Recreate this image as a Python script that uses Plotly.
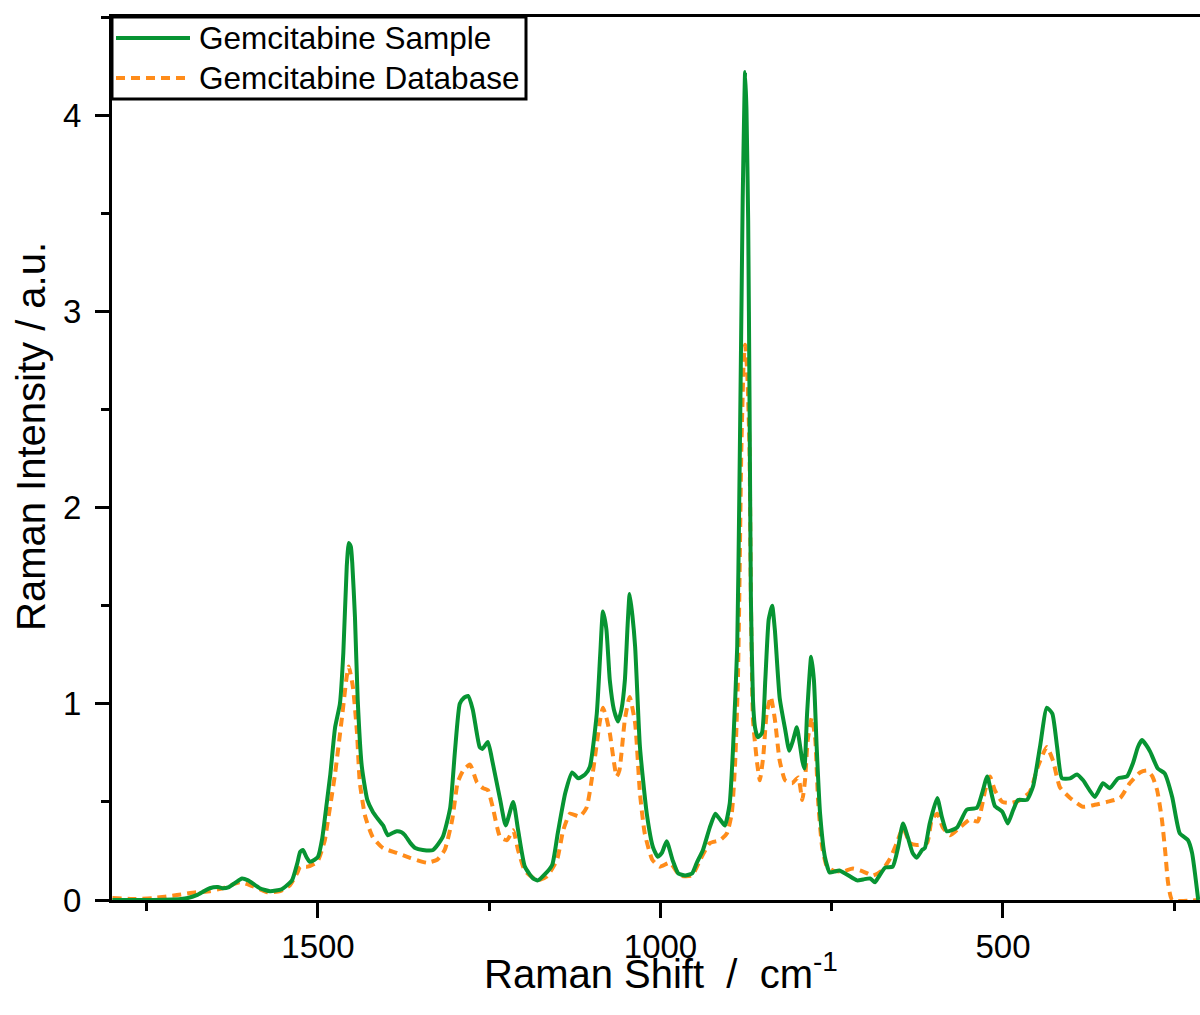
import plotly.graph_objects as go

# ---- data ----
sample_shift = [1800, 1750, 1700, 1690, 1677, 1658, 1646, 1639, 1630, 1620, 1611, 1602, 1585, 1570, 1553,
                1538, 1530, 1526, 1522, 1517, 1512, 1505, 1500, 1494, 1487, 1482, 1475, 1468, 1463, 1458,
                1455, 1452, 1450, 1446, 1442, 1436, 1428, 1420, 1414, 1405, 1398, 1392, 1385, 1378, 1373,
                1365, 1358, 1347, 1332, 1318, 1307, 1300, 1293, 1287, 1281, 1274, 1264, 1260, 1252, 1245,
                1234, 1226, 1215, 1208, 1198, 1186, 1179, 1169, 1158, 1150, 1139, 1129, 1120, 1110, 1103,
                1093, 1088, 1084, 1079, 1074, 1068, 1062, 1057, 1052, 1048, 1045, 1041, 1037, 1030, 1020,
                1011, 1004, 998, 991, 982, 974, 964, 954, 947, 938, 928, 920, 913, 906, 899,
                894, 888, 885, 882.5, 880, 877.5, 876.5, 874.5, 872, 870, 868, 865, 862, 858, 852,
                847, 842, 837, 833, 826, 818, 812, 806, 801, 796, 793, 790, 786, 780, 776,
                772, 767, 760, 753, 746, 739, 728, 713, 704, 694, 687, 682, 672, 661, 653,
                646, 639, 632, 626, 618, 614, 607, 596, 589, 582, 567, 553, 538, 530, 523,
                512, 501, 493, 485, 478, 465, 456, 446, 436, 428, 421, 414, 402, 392, 383,
                366, 354, 344, 332, 319, 310, 303, 297, 291, 285, 274, 264, 253, 242, 230,
                224, 215]
sample_intensity = [0.0, 0.0, 0.005, 0.01, 0.025, 0.06, 0.066, 0.06, 0.066, 0.09, 0.11, 0.10, 0.06, 0.045, 0.055,
                    0.10, 0.19, 0.245, 0.255, 0.22, 0.195, 0.205, 0.22, 0.31, 0.50, 0.64, 0.88, 1.00, 1.26, 1.70,
                    1.82, 1.80, 1.72, 1.44, 1.02, 0.68, 0.51, 0.45, 0.42, 0.38, 0.33, 0.34, 0.35, 0.345, 0.33,
                    0.29, 0.265, 0.255, 0.255, 0.32, 0.47, 0.76, 1.00, 1.03, 1.04, 0.97, 0.78, 0.77, 0.805, 0.70,
                    0.51, 0.38, 0.50, 0.36, 0.17, 0.11, 0.10, 0.13, 0.18, 0.34, 0.545, 0.65, 0.62, 0.64, 0.68,
                    0.95, 1.25, 1.47, 1.38, 1.12, 0.97, 0.91, 0.97, 1.12, 1.40, 1.56, 1.45, 1.29, 0.78, 0.44,
                    0.27, 0.22, 0.24, 0.30, 0.20, 0.135, 0.125, 0.135, 0.19, 0.255, 0.37, 0.44, 0.41, 0.38, 0.49,
                    0.78, 1.29, 2.04, 2.80, 3.57, 4.08, 4.22, 4.03, 3.46, 2.55, 1.53, 1.02, 0.88, 0.83, 0.85,
                    1.12, 1.43, 1.50, 1.375, 1.03, 0.87, 0.76, 0.82, 0.88, 0.78, 0.71, 0.67, 0.95, 1.24, 1.12,
                    0.78, 0.44, 0.22, 0.14, 0.145, 0.15, 0.13, 0.10, 0.105, 0.11, 0.09, 0.115, 0.165, 0.17, 0.27,
                    0.39, 0.32, 0.24, 0.215, 0.255, 0.265, 0.39, 0.52, 0.42, 0.35, 0.37, 0.46, 0.47, 0.55, 0.63,
                    0.48, 0.45, 0.39, 0.46, 0.51, 0.51, 0.58, 0.78, 0.98, 0.95, 0.78, 0.62, 0.62, 0.64, 0.61,
                    0.525, 0.595, 0.57, 0.62, 0.63, 0.70, 0.78, 0.815, 0.79, 0.755, 0.67, 0.645, 0.525, 0.34, 0.305,
                    0.24, 0.0]

database_shift = [1800, 1770, 1741, 1706, 1677, 1658, 1639, 1614, 1599, 1585, 1574, 1555, 1541, 1530, 1526,
                  1515, 1501, 1490, 1487, 1475, 1465, 1458, 1455, 1449, 1443, 1439, 1431, 1420, 1405, 1385,
                  1366, 1341, 1326, 1315, 1304, 1296, 1288, 1278, 1268, 1259, 1252, 1245, 1234, 1224, 1215,
                  1208, 1198, 1180, 1166, 1151, 1142, 1132, 1118, 1108, 1099, 1088, 1084, 1079, 1074, 1064,
                  1060, 1052, 1045, 1037, 1030, 1023, 1012, 1001, 986, 972, 954, 942, 928, 913, 903,
                  896, 891, 887, 885, 882, 878.5, 876.5, 873.5, 870, 868, 865, 862, 859, 855, 850,
                  845, 839, 833, 826, 818, 808, 799, 793, 789, 785, 779, 774, 770, 764, 757,
                  748, 734, 719, 704, 690, 677, 665, 655, 646, 636, 626, 611, 604, 596, 588,
                  577, 563, 548, 537, 526, 519, 512, 501, 487, 475, 461, 449, 436, 427, 417,
                  402, 383, 366, 348, 329, 315, 300, 290, 282, 275, 268, 263, 259, 253, 215]
database_intensity = [0.01, 0.005, 0.01, 0.025, 0.04, 0.045, 0.06, 0.09, 0.075, 0.055, 0.04, 0.045, 0.075, 0.14, 0.17,
                      0.17, 0.195, 0.305, 0.37, 0.645, 0.93, 1.14, 1.19, 1.085, 0.85, 0.60, 0.425, 0.32, 0.265, 0.24,
                      0.215, 0.19, 0.205, 0.255, 0.41, 0.60, 0.66, 0.69, 0.60, 0.57, 0.56, 0.475, 0.32, 0.305, 0.355,
                      0.255, 0.15, 0.10, 0.12, 0.205, 0.355, 0.44, 0.425, 0.47, 0.645, 0.92, 0.98, 0.93, 0.85, 0.63,
                      0.66, 0.92, 1.035, 0.90, 0.545, 0.34, 0.205, 0.17, 0.19, 0.125, 0.125, 0.205, 0.29, 0.305, 0.34,
                      0.44, 0.70, 1.12, 1.53, 2.29, 2.75, 2.83, 2.70, 2.29, 1.53, 0.92, 0.80, 0.70, 0.61, 0.73,
                      0.95, 1.035, 0.92, 0.71, 0.61, 0.595, 0.625, 0.51, 0.61, 0.815, 0.93, 0.815, 0.51, 0.27, 0.17,
                      0.15, 0.145, 0.16, 0.145, 0.125, 0.15, 0.21, 0.29, 0.37, 0.29, 0.28, 0.29, 0.41, 0.44, 0.37,
                      0.33, 0.37, 0.41, 0.40, 0.56, 0.63, 0.56, 0.50, 0.495, 0.51, 0.55, 0.68, 0.78, 0.71, 0.575,
                      0.52, 0.475, 0.485, 0.50, 0.52, 0.595, 0.65, 0.66, 0.63, 0.56, 0.41, 0.24, 0.087, 0.0, 0.0]

series_names = ["Gemcitabine Sample", "Gemcitabine Database"]
x_title = "Raman Shift\u00a0\u00a0/\u00a0\u00a0cm<sup>-1</sup>"
y_title = "Raman Intensity / a.u."

GREEN = "#079433"
ORANGE = "#FF8C1A"
FONT = "Arial, Liberation Sans, sans-serif"

fig = go.Figure()
fig.add_trace(go.Scatter(x=database_shift, y=database_intensity, mode="lines", name=series_names[1],
                         line=dict(color=ORANGE, width=4, dash="9px,6px", shape="spline", smoothing=0.5),
                         showlegend=False))
fig.add_trace(go.Scatter(x=sample_shift, y=sample_intensity, mode="lines", name=series_names[0],
                         line=dict(color=GREEN, width=4, shape="spline", smoothing=0.5),
                         showlegend=False))

W, H = 1200, 1015
L, R, T, B = 112, 0, 17, 115
pw, ph = W - L - R, H - T - B

def px(xp):
    return (xp - L) / pw

def py(yp):
    return (H - B - yp) / ph

fig.update_layout(
    width=W, height=H,
    margin=dict(l=L, r=R, t=T, b=B, pad=0),
    plot_bgcolor="white", paper_bgcolor="white",
    font=dict(family=FONT, color="black"),
    showlegend=False,
    xaxis=dict(range=[1800.7, 212.4], tickmode="linear", tick0=0, dtick=500,
               ticks="outside", ticklen=15, tickwidth=3, tickcolor="black",
               showline=True, linewidth=3, linecolor="black", mirror=True,
               showgrid=False, zeroline=False,
               tickfont=dict(size=33, family=FONT, color="black"),
               minor=dict(dtick=250, tick0=0, ticks="outside", ticklen=8, tickwidth=3, tickcolor="black", showgrid=False)),
    yaxis=dict(range=[0, 4.5], tickmode="linear", tick0=0, dtick=1,
               ticks="outside", ticklen=14, tickwidth=3, tickcolor="black",
               showline=True, linewidth=3, linecolor="black", mirror=False,
               showgrid=False, zeroline=False, ticklabelstandoff=7,
               tickfont=dict(size=33, family=FONT, color="black"),
               minor=dict(dtick=0.5, tick0=0, ticks="outside", ticklen=8, tickwidth=3, tickcolor="black", showgrid=False)),
)

# axis titles
fig.add_annotation(text=x_title, xref="paper", yref="paper", x=px(661), y=py(971),
                   xanchor="center", yanchor="middle", showarrow=False,
                   font=dict(size=40, family=FONT, color="black"))
fig.add_annotation(text=y_title, xref="paper", yref="paper", x=px(31), y=py(437),
                   xanchor="center", yanchor="middle", showarrow=False, textangle=-90,
                   font=dict(size=40, family=FONT, color="black"))

# legend box
fig.add_shape(type="rect", xref="paper", yref="paper", x0=px(112), x1=px(526), y0=py(99), y1=py(17),
              line=dict(color="black", width=3), fillcolor="white", layer="above")
fig.add_shape(type="line", xref="paper", yref="paper", x0=px(116), x1=px(190), y0=py(38), y1=py(38),
              line=dict(color=GREEN, width=4), layer="above")
fig.add_shape(type="line", xref="paper", yref="paper", x0=px(116), x1=px(190), y0=py(78), y1=py(78),
              line=dict(color=ORANGE, width=4, dash="9px,6px"), layer="above")
fig.add_annotation(text=series_names[0], xref="paper", yref="paper", x=px(197), y=py(38),
                   xanchor="left", yanchor="middle", showarrow=False,
                   font=dict(size=31.5, family=FONT, color="black"))
fig.add_annotation(text=series_names[1], xref="paper", yref="paper", x=px(197), y=py(78),
                   xanchor="left", yanchor="middle", showarrow=False,
                   font=dict(size=31.5, family=FONT, color="black"))

fig.write_html("out.html")
